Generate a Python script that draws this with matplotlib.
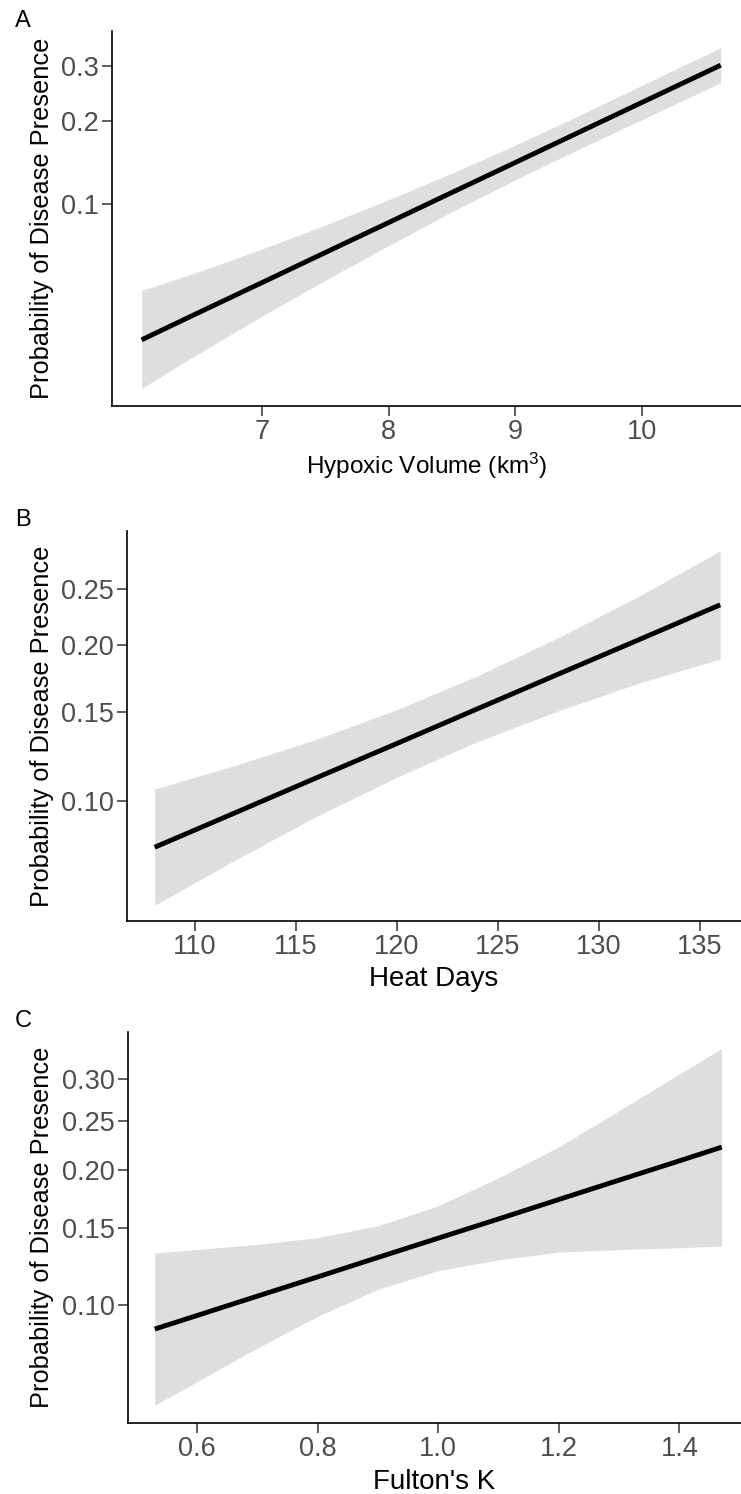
import matplotlib.pyplot as plt
from matplotlib.ticker import NullLocator

plt.rcParams['font.family'] = ['Liberation Sans', 'DejaVu Sans']
plt.rcParams['mathtext.default'] = 'regular'

# A - hypoxic volume
hyp_x = [6.05, 6.5, 7, 7.5, 8, 8.5, 9, 9.5, 10, 10.62]
hyp_fit = [0.0285, 0.0369, 0.0489, 0.0646, 0.0848, 0.1107, 0.1431, 0.1832, 0.2314, 0.3023]
hyp_lo = [0.0179, 0.0250, 0.0357, 0.0500, 0.0689, 0.0934, 0.1235, 0.1598, 0.2028, 0.2674]
hyp_hi = [0.0454, 0.0541, 0.0667, 0.0829, 0.1039, 0.1308, 0.1652, 0.2092, 0.2626, 0.3398]
hyp_xticks = [7, 8, 9, 10]
hyp_yticks = [0.1, 0.2, 0.3]
hyp_ylabels = ['0.1', '0.2', '0.3']

# B - heat days
heat_x = [108, 112, 116, 120, 124, 128, 132, 136]
heat_fit = [0.0805, 0.0948, 0.1114, 0.1303, 0.1521, 0.1767, 0.2042, 0.2349]
heat_lo = [0.0609, 0.0758, 0.0931, 0.1118, 0.1315, 0.1507, 0.1701, 0.1883]
heat_hi = [0.1058, 0.1180, 0.1327, 0.1515, 0.1754, 0.2060, 0.2432, 0.2888]
heat_xticks = [110, 115, 120, 125, 130, 135]
heat_yticks = [0.10, 0.15, 0.20, 0.25]
heat_ylabels = ['0.10', '0.15', '0.20', '0.25']

# C - Fulton's K
k_x = [0.53, 0.6, 0.7, 0.8, 0.9, 1.0, 1.1, 1.2, 1.3, 1.4, 1.47]
k_fit = [0.0879, 0.0946, 0.1050, 0.1163, 0.1288, 0.1423, 0.1569, 0.1729, 0.1901, 0.2085, 0.2223]
k_lo = [0.0576, 0.0657, 0.0792, 0.0942, 0.1089, 0.1202, 0.1272, 0.1324, 0.1342, 0.1354, 0.1367]
k_hi = [0.1318, 0.1342, 0.1378, 0.1427, 0.1516, 0.1677, 0.1922, 0.2227, 0.2623, 0.3070, 0.3401]
k_xticks = [0.6, 0.8, 1.0, 1.2, 1.4]
k_xlabels = ['0.6', '0.8', '1.0', '1.2', '1.4']
k_yticks = [0.10, 0.15, 0.20, 0.25, 0.30]
k_ylabels = ['0.10', '0.15', '0.20', '0.25', '0.30']

W, H = 741, 1494
fig = plt.figure(figsize=(W / 100, H / 100), dpi=100)


def panel(box, x, fit, lo, hi, xlim, ylim, xticks, xlabels, yticks, ylabels,
          xlabel, xlab_size, xlab_y, letter, letter_y):
    left, top, right, bottom = box
    ax = fig.add_axes([left / W, 1 - bottom / H, (right - left) / W, (bottom - top) / H])
    ax.fill_between(x, lo, hi, color='#DEDEDE', lw=0)
    ax.plot(x, fit, color='black', lw=3.5, solid_capstyle='butt')
    ax.set_yscale('logit')
    ax.set_ylim(*ylim)
    ax.set_xlim(*xlim)
    ax.set_yticks(yticks, labels=ylabels)
    ax.set_xticks(xticks, labels=xlabels)
    ax.yaxis.set_minor_locator(NullLocator())
    ax.xaxis.set_minor_locator(NullLocator())
    for s in ['top', 'right']:
        ax.spines[s].set_visible(False)
    for s in ['left', 'bottom']:
        ax.spines[s].set_linewidth(1.2)
    ax.tick_params(length=7.5, width=1.1, color='#333333', labelsize=19.5,
                   labelcolor='#4D4D4D', pad=2)
    ax.set_ylabel('Probability of Disease Presence', fontsize=18.3, va='center')
    ax.yaxis.set_label_coords((42 - left) / (right - left), 0.5)
    ax.set_xlabel(xlabel, fontsize=xlab_size, va='center')
    ax.xaxis.set_label_coords(0.5, (bottom - xlab_y) / (bottom - top))
    fig.text(23 / W, 1 - letter_y / H, letter, ha='center', va='center', fontsize=17)
    return ax


panel((112, 31, 741, 406), hyp_x, hyp_fit, hyp_lo, hyp_hi,
      (5.816, 10.78), (0.0151, 0.3773), hyp_xticks, [str(v) for v in hyp_xticks],
      hyp_yticks, hyp_ylabels, 'Hypoxic Volume (km$^3$)', 17.5, 466, 'A', 21)

panel((127, 531, 741, 921), heat_x, heat_fit, heat_lo, heat_hi,
      (106.63, 137.03), (0.0564, 0.3103), heat_xticks, [str(v) for v in heat_xticks],
      heat_yticks, heat_ylabels, 'Heat Days', 20, 979, 'B', 520)

panel((128, 1032, 741, 1423), k_x, k_fit, k_lo, k_hi,
      (0.4856, 1.502), (0.0521, 0.3626), k_xticks, k_xlabels,
      k_yticks, k_ylabels, "Fulton's K", 20, 1482, 'C', 1021)

fig.savefig('out.png', dpi=100)
